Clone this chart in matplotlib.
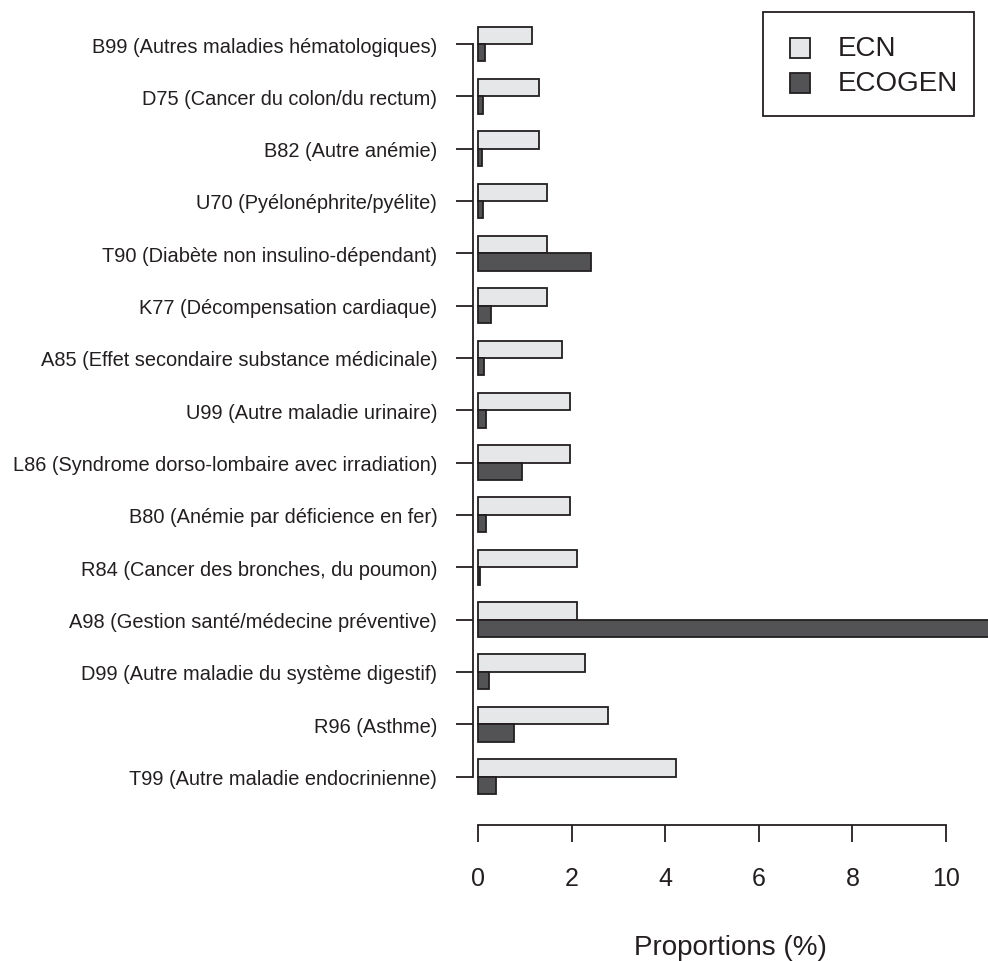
import matplotlib
matplotlib.use("Agg")
import matplotlib.pyplot as plt
from matplotlib.patches import Rectangle
import numpy as np

plt.rcParams["font.family"] = ["Liberation Sans", "DejaVu Sans"]

# categories from top to bottom, as in the figure
categories = [
    "B99 (Autres maladies hématologiques)",
    "D75 (Cancer du colon/du rectum)",
    "B82 (Autre anémie)",
    "U70 (Pyélonéphrite/pyélite)",
    "T90 (Diabète non insulino-dépendant)",
    "K77 (Décompensation cardiaque)",
    "A85 (Effet secondaire substance médicinale)",
    "U99 (Autre maladie urinaire)",
    "L86 (Syndrome dorso-lombaire avec irradiation)",
    "B80 (Anémie par déficience en fer)",
    "R84 (Cancer des bronches, du poumon)",
    "A98 (Gestion santé/médecine préventive)",
    "D99 (Autre maladie du système digestif)",
    "R96 (Asthme)",
    "T99 (Autre maladie endocrinienne)",
]
ecn = [1.15, 1.31, 1.31, 1.47, 1.47, 1.47, 1.80, 1.97, 1.96, 1.96, 2.11, 2.11, 2.29, 2.77, 4.24]
ecogen = [0.15, 0.10, 0.09, 0.10, 2.41, 0.27, 0.13, 0.17, 0.94, 0.18, 0.05, 12.0, 0.23, 0.76, 0.39]
series = ["ECN", "ECOGEN"]

col_ecn = "#E6E7E8"
col_ecogen = "#535356"
edge = "#231F20"

fig = plt.figure(figsize=(9.88, 9.62), dpi=100)
W, H = 988, 962


def fx(px):
    return px / W


def fy(py):
    return 1 - py / H


ax = fig.add_axes([fx(473), fy(826), (W - 473) / W, 826 / H])

n = len(categories)
centers = 2 + 3 * np.arange(n)[::-1]  # R barplot group centres, bottom = first
ax.barh(centers + 0.5, ecn, height=1, left=0, color=col_ecn, edgecolor=edge, linewidth=1.3)
ax.barh(centers - 0.5, ecogen, height=1, left=0, color=col_ecogen, edgecolor=edge, linewidth=1.3)

ax.set_xlim(-5 / 46.8, 510 / 46.8)
ax.set_ylim(2 - 48.5 / 17.44, 2 + 777.5 / 17.44)

for s in ["top", "right"]:
    ax.spines[s].set_visible(False)
ax.spines["left"].set_bounds(centers.min(), centers.max())
ax.spines["bottom"].set_bounds(0, 10)
for s in ["left", "bottom"]:
    ax.spines[s].set_color(edge)
    ax.spines[s].set_linewidth(1.3)

ax.set_yticks(centers)
ax.set_yticklabels(categories, fontsize=14.4)
ax.set_xticks(np.arange(0, 11, 2))
ax.set_xticklabels([str(v) for v in range(0, 11, 2)], fontsize=18)
ax.tick_params(axis="y", length=12.2, width=1.3, color=edge, pad=13.5, labelcolor=edge)
ax.tick_params(axis="x", length=12.2, width=1.3, color=edge, pad=17, labelcolor=edge)

fig.text(fx(730), fy(948), "Proportions (%)", fontsize=20, ha="center", va="center", color=edge)

# legend box drawn like R's legend()
fig.patches.append(Rectangle((fx(763), fy(117)), (974 - 763) / W, (117 - 13) / H,
                             transform=fig.transFigure, facecolor="white", edgecolor=edge,
                             linewidth=1.3))
for name, col, yc in zip(series, [col_ecn, col_ecogen], [49, 84]):
    fig.patches.append(Rectangle((fx(790), fy(yc + 10)), 20 / W, 20 / H,
                                 transform=fig.transFigure, facecolor=col, edgecolor=edge,
                                 linewidth=1.3))
    fig.text(fx(838), fy(yc), name, fontsize=20, ha="left", va="center", color=edge)

fig.savefig("out.png", dpi=100)
